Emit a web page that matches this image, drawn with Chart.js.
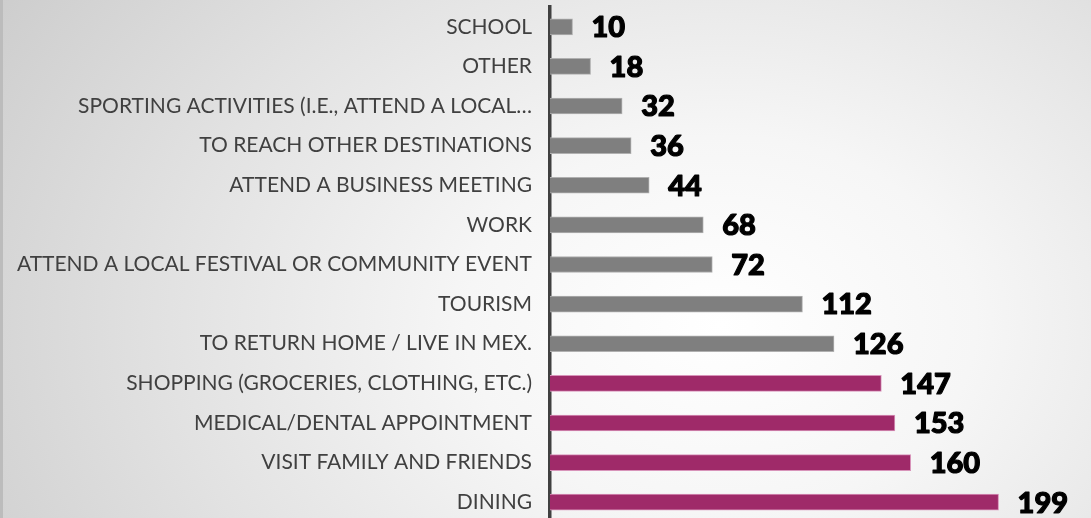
<!DOCTYPE html>
<html>
<head>
<meta charset="utf-8">
<script src="https://cdn.jsdelivr.net/npm/chart.js@4/dist/chart.umd.min.js"></script>
<style>
  html, body { margin: 0; padding: 0; overflow: hidden; }
  #wrap {
    position: relative;
    width: 1091px;
    height: 524px;
    box-sizing: border-box;
    border-left: 3px solid #bcbcbc;
    background: radial-gradient(ellipse 78% 120% at 66% 62%, #ffffff 0%, #f6f6f6 30%, #e2e2e2 65%, #cdcdcd 100%);
  }
</style>
</head>
<body>
<div id="wrap"><canvas id="chart"></canvas></div>
<script>
// reasons for trip, top to bottom as in the original slide
const categories = [
  'SCHOOL',
  'OTHER',
  'SPORTING ACTIVITIES (I.E., ATTEND A LOCAL\u2026',
  'TO REACH OTHER DESTINATIONS',
  'ATTEND A BUSINESS MEETING',
  'WORK',
  'ATTEND A LOCAL FESTIVAL OR COMMUNITY EVENT',
  'TOURISM',
  'TO RETURN HOME / LIVE IN MEX.',
  'SHOPPING (GROCERIES, CLOTHING, ETC.)',
  'MEDICAL/DENTAL APPOINTMENT',
  'VISIT FAMILY AND FRIENDS',
  'DINING'
];
const counts = [10, 18, 32, 36, 44, 68, 72, 112, 126, 147, 153, 160, 199];
// the top 4 answers are highlighted
const highlighted = [false, false, false, false, false, false, false, false, false, true, true, true, true];

const GRAY = '#7f7f7f';
const GRAY_EDGE = '#b0b0b0';
const PLUM = '#9f2a69';
const PLUM_EDGE = '#d894ba';

// draws the bold value next to each bar
const valueLabels = {
  id: 'valueLabels',
  afterDatasetsDraw(chart) {
    const ctx = chart.ctx;
    const meta = chart.getDatasetMeta(0);
    ctx.save();
    ctx.font = '900 29px Lato';
    ctx.fillStyle = '#000';
    ctx.strokeStyle = '#000';
    ctx.lineWidth = 1.2; // a little heavier, closer to the original font
    ctx.lineJoin = 'round';
    ctx.textAlign = 'left';
    ctx.textBaseline = 'middle';
    meta.data.forEach((bar, i) => {
      const txt = String(counts[i]);
      ctx.fillText(txt, bar.x + 19, bar.y + 1);
      ctx.strokeText(txt, bar.x + 19, bar.y + 1);
    });
    ctx.restore();
  }
};

new Chart(document.getElementById('chart'), {
  type: 'bar',
  data: {
    labels: categories,
    datasets: [{
      data: counts,
      backgroundColor: highlighted.map(h => h ? PLUM : GRAY),
      borderColor: highlighted.map(h => h ? PLUM_EDGE : GRAY_EDGE),
      borderWidth: 1,
      borderSkipped: 'start',
      barThickness: 16
    }]
  },
  options: {
    indexAxis: 'y',
    responsive: true,
    maintainAspectRatio: false,
    animation: false,
    layout: { padding: { top: 7, bottom: 2, left: 0, right: 0 } },
    plugins: {
      legend: { display: false },
      tooltip: { enabled: false }
    },
    scales: {
      x: {
        display: false,
        min: 0,
        max: 240
      },
      y: {
        grid: { display: false, drawTicks: false },
        border: { display: true, color: '#404040', width: 3.5 },
        ticks: {
          color: '#404040',
          padding: 18,
          font: { family: 'Lato', size: 21 }
        },
        afterFit(scale) {
          scale.width = 547;
          // no extra room for half labels at the ends
          scale.paddingTop = 0;
          scale.paddingBottom = 0;
        }
      }
    }
  },
  plugins: [valueLabels]
});
</script>
</body>
</html>
